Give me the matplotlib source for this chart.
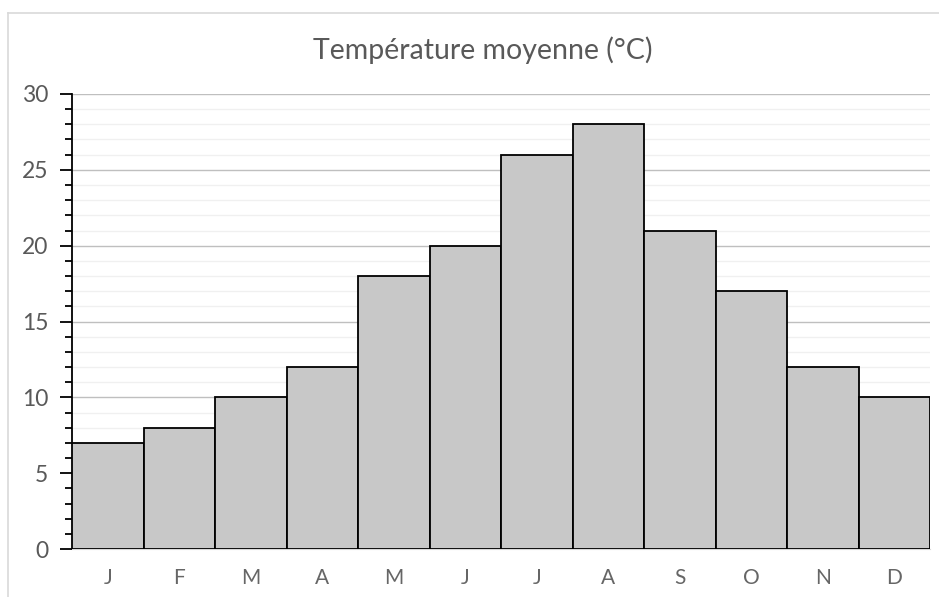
import matplotlib
matplotlib.use("Agg")
import matplotlib.pyplot as plt
from matplotlib.lines import Line2D
from matplotlib.ticker import MultipleLocator

months = ["J", "F", "M", "A", "M", "J", "J", "A", "S", "O", "N", "D"]
temps = [7, 8, 10, 12, 18, 20, 26, 28, 21, 17, 12, 10]
title = "Température moyenne (°C)"

plt.rcParams['font.family'] = ['Lato', 'DejaVu Sans']

fig = plt.figure(figsize=(9.39, 5.97), dpi=100)
ax = fig.add_axes([72/939, 1-549/597, (930-72)/939, (549-94)/597])

x = list(range(len(months)))
ax.bar(x, temps, width=1.0, color="#C8C8C8", edgecolor="black", linewidth=1.3, zorder=3)

ax.set_xlim(-0.5, len(months)-0.5)
ax.set_ylim(0, 30)
ax.yaxis.set_major_locator(MultipleLocator(5))
ax.yaxis.set_minor_locator(MultipleLocator(1))
ax.grid(which="major", axis="y", color="#BFBFBF", linewidth=1.0, zorder=0)
ax.grid(which="minor", axis="y", color="#F0F0F0", linewidth=1.0, zorder=0)
ax.set_xticks(x)
ax.set_xticklabels(months)

for s in ["top", "right"]:
    ax.spines[s].set_visible(False)
ax.spines["bottom"].set_color("#D9D9D9")
ax.spines["left"].set_color("black")
ax.spines["left"].set_linewidth(1.3)

ax.tick_params(axis="y", which="major", length=9, width=1.3, color="black",
               labelsize=16.5, labelcolor="#595959", pad=8)
ax.tick_params(axis="y", which="minor", length=5, width=1.3, color="black")
ax.tick_params(axis="x", length=0, labelsize=15, labelcolor="#666666", pad=14)

fig.text((313+652)/2/939, 1-50/597, title, ha="center", va="center",
         fontsize=20.5, color="#595959")

# chart area border (light gray)
fig.add_artist(Line2D([8/939, 8/939], [0, 1-13/597], transform=fig.transFigure,
                      color="#D9D9D9", linewidth=1.2))
fig.add_artist(Line2D([8/939, 1], [1-13/597, 1-13/597], transform=fig.transFigure,
                      color="#D9D9D9", linewidth=1.2))

fig.savefig("out.png", dpi=100)
